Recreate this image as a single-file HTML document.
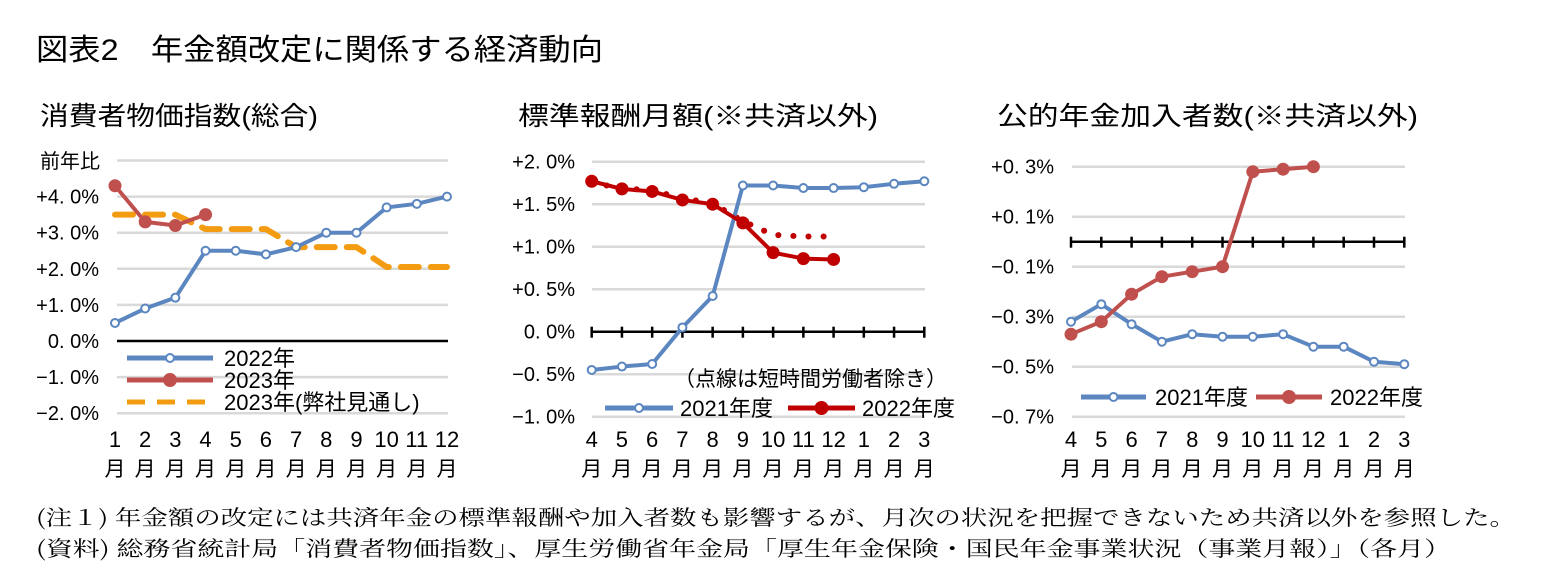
<!DOCTYPE html>
<html><head><meta charset="utf-8">
<style>
body{margin:0;background:#fff;}
svg{display:block;font-family:"Liberation Sans","Noto Sans CJK JP",sans-serif;}
</style></head>
<body>
<svg id="c" width="1553" height="586" viewBox="0 0 1553 586" xmlns="http://www.w3.org/2000/svg">
<rect width="1553" height="586" fill="#fff"/>
<text x="36" y="60" font-size="30" textLength="567" lengthAdjust="spacingAndGlyphs" fill="#000">図表2　年金額改定に関係する経済動向</text>
<text x="40" y="125" font-size="26" textLength="278" lengthAdjust="spacingAndGlyphs">消費者物価指数(総合)</text>
<text x="518" y="125" font-size="26" textLength="360" lengthAdjust="spacingAndGlyphs">標準報酬月額(※共済以外)</text>
<text x="997" y="125" font-size="26" textLength="421" lengthAdjust="spacingAndGlyphs">公的年金加入者数(※共済以外)</text>
<text x="36" y="525" font-size="21" textLength="1480" lengthAdjust="spacingAndGlyphs" style="font-family:'Noto Serif CJK SC',serif">(注１)  年金額の改定には共済年金の標準報酬や加入者数も影響するが、月次の状況を把握できないため共済以外を参照した。</text>
<text x="36" y="556" font-size="21" textLength="1415" lengthAdjust="spacingAndGlyphs" style="font-family:'Noto Serif CJK SC',serif">(資料)  総務省統計局「消費者物価指数」、厚生労働省年金局「厚生年金保険・国民年金事業状況（事業月報）」（各月）</text>
<g id="g1"></g><g id="g2"></g><g id="g3"></g>
</svg>
<script>
// Chart 1 data
const cpiMonths = ["1","2","3","4","5","6","7","8","9","10","11","12"];
const cpiTicks = [-2,-1,0,1,2,3,4];
const cpiTickLabels = ["−2. 0%","−1. 0%","0. 0%","+1. 0%","+2. 0%","+3. 0%","+4. 0%"];
const cpi2022 = [0.5,0.9,1.2,2.5,2.5,2.4,2.6,3.0,3.0,3.7,3.8,4.0];
const cpi2023 = [4.3,3.3,3.2,3.5];
const cpi2023f = [3.5,3.5,3.5,3.1,3.1,3.1,2.6,2.6,2.6,2.05,2.05,2.05];
// Chart 2 data
const fyMonths = ["4","5","6","7","8","9","10","11","12","1","2","3"];
const wageTicks = [-1,-0.5,0,0.5,1,1.5,2];
const wageTickLabels = ["−1. 0%","−0. 5%","0. 0%","+0. 5%","+1. 0%","+1. 5%","+2. 0%"];
const wage2021 = [-0.45,-0.41,-0.38,0.05,0.42,1.72,1.72,1.69,1.69,1.70,1.74,1.77];
const wage2022 = [1.77,1.68,1.65,1.55,1.50,1.28,0.93,0.86,0.85];
const wage2022ex = [1.75,1.69,1.66,1.57,1.51,1.30,1.14,1.12,1.12];
// Chart 3 data
const memTicks = [-0.7,-0.5,-0.3,-0.1,0.1,0.3];
const memTickLabels = ["−0. 7%","−0. 5%","−0. 3%","−0. 1%","+0. 1%","+0. 3%"];
const mem2021 = [-0.32,-0.25,-0.33,-0.40,-0.37,-0.38,-0.38,-0.37,-0.42,-0.42,-0.48,-0.49];
const mem2022 = [-0.37,-0.32,-0.21,-0.14,-0.12,-0.10,0.28,0.29,0.30];

const NS="http://www.w3.org/2000/svg";
function mk(parent,tag,attrs){const e=document.createElementNS(NS,tag);for(const k in attrs)e.setAttribute(k,attrs[k]);parent.appendChild(e);return e;}
function chart(g,o){
  const xs=i=>o.x0+i*(o.x1-o.x0)/11;
  const ys=v=>o.yZero-v*o.ppu;
  o.gridVals.forEach(v=>{const l=mk(g,'line',{x1:o.gx0,x2:o.gx1,y1:ys(v),y2:ys(v),stroke:'#d9d9d9','stroke-width':2.5});
    
    });
  o.ticks.forEach((v,i)=>{const t=mk(g,'text',{x:o.labelX,y:ys(v)+7,'font-size':20,'text-anchor':'end'});t.textContent=o.tickLabels[i];
    
    });
  const z=mk(g,'line',{x1:o.gx0,x2:o.gx1,y1:ys(0),y2:ys(0),stroke:'#000','stroke-width':2.5});
  
  
  if(o.tickMarks){for(let i=0;i<12;i++){const t=mk(g,'line',{x1:xs(i),x2:xs(i),y1:ys(0)-5,y2:ys(0)+6,stroke:'#000','stroke-width':2.5});
    
    }}
  o.months.forEach((m,i)=>{const t=mk(g,'text',{x:xs(i),y:447,'font-size':22,'text-anchor':'middle'});t.textContent=m;
    
    
    const t2=mk(g,'text',{x:xs(i),y:476,'font-size':21,'text-anchor':'middle'});t2.textContent='月';
    
    });
  o.series.forEach(s=>{
    const pts=s.data.map((v,i)=>xs(i)+','+ys(v)).join(' ');
    const attrs={points:pts,fill:'none',stroke:s.color,'stroke-width':s.w||4,'stroke-linejoin':'round','stroke-linecap':'round'};
    if(s.dash)attrs['stroke-dasharray']=s.dash;
    const p=mk(g,'polyline',attrs);
    
    
    if(s.marker){s.data.forEach((v,i)=>{const c=mk(g,'circle',{cx:xs(i),cy:ys(v),r:s.marker==='open'?4:6,fill:s.marker==='open'?'#fff':s.color,stroke:s.color,'stroke-width':s.marker==='open'?2:1});
      
      });}
  });
}
function legend(g,x1,x2,y,color,marker,label,tx,dash){
  const a={x1:x1,x2:x2,y1:y,y2:y,stroke:color,'stroke-width':5};
  if(dash)a['stroke-dasharray']=dash;
  const l=mk(g,'line',a);
  
  
  if(marker){const c=mk(g,'circle',{cx:(x1+x2)/2,cy:y,r:marker==='open'?4:6,fill:marker==='open'?'#fff':color,stroke:color,'stroke-width':2});
    
    }
  const t=mk(g,'text',{x:tx,y:y+8,'font-size':22});t.textContent=label;
  
  
}
const blue='#5b86c0', red='#c0504d', dred='#c00000', orange='#f39c12';
const g1=document.getElementById('g1');
chart(g1,{x0:115,x1:447,gx0:117,gx1:448,yZero:341,ppu:36.1,gridVals:[-2,-1,1,2,3,4,5],ticks:cpiTicks,tickLabels:cpiTickLabels,labelX:99,months:cpiMonths,
  series:[{name:'cpi-2023-forecast',data:cpi2023f,color:orange,w:6,dash:'18,12'},{name:'cpi-2022',data:cpi2022,color:blue,marker:'open'},{name:'cpi-2023',data:cpi2023,color:red,marker:'fill'}]});
const pt=mk(g1,'text',{x:40,y:168,'font-size':20});pt.textContent='前年比';


legend(g1,127,213,358,blue,'open','2022年',224);
legend(g1,127,213,380,red,'fill','2023年',224);
legend(g1,127,213,402,orange,null,'2023年(弊社見通し)',224,'18,12');

const g2=document.getElementById('g2');
chart(g2,{x0:591.7,x1:924.3,gx0:592,gx1:925,yZero:331.7,ppu:85,gridVals:[-1,-0.5,0.5,1,1.5,2],ticks:wageTicks,tickLabels:wageTickLabels,labelX:575,months:fyMonths,tickMarks:true,
  series:[{name:'wage-2022-excl-short-time',data:wage2022ex,color:dred,w:6,dash:'0.1,15'},{name:'wage-2021',data:wage2021,color:blue,marker:'open'},{name:'wage-2022',data:wage2022,color:dred,marker:'fill'}]});
const n2=mk(g2,'text',{x:674,y:386,'font-size':21});n2.textContent='（点線は短時間労働者除き）';


legend(g2,605,673,408,blue,'open','2021年度',680);
legend(g2,788,855,408,dred,'fill','2022年度',862);

const g3=document.getElementById('g3');
chart(g3,{x0:1071,x1:1404.3,gx0:1072,gx1:1405,yZero:241.7,ppu:250,gridVals:[-0.7,-0.5,-0.3,-0.1,0.1,0.3],ticks:memTicks,tickLabels:memTickLabels,labelX:1054,months:fyMonths,tickMarks:true,
  series:[{name:'members-2021',data:mem2021,color:blue,marker:'open'},{name:'members-2022',data:mem2022,color:red,marker:'fill'}]});
legend(g3,1081,1146,397,blue,'open','2021年度',1155);
legend(g3,1256,1322,397,red,'fill','2022年度',1330);
</script>
</body></html>
